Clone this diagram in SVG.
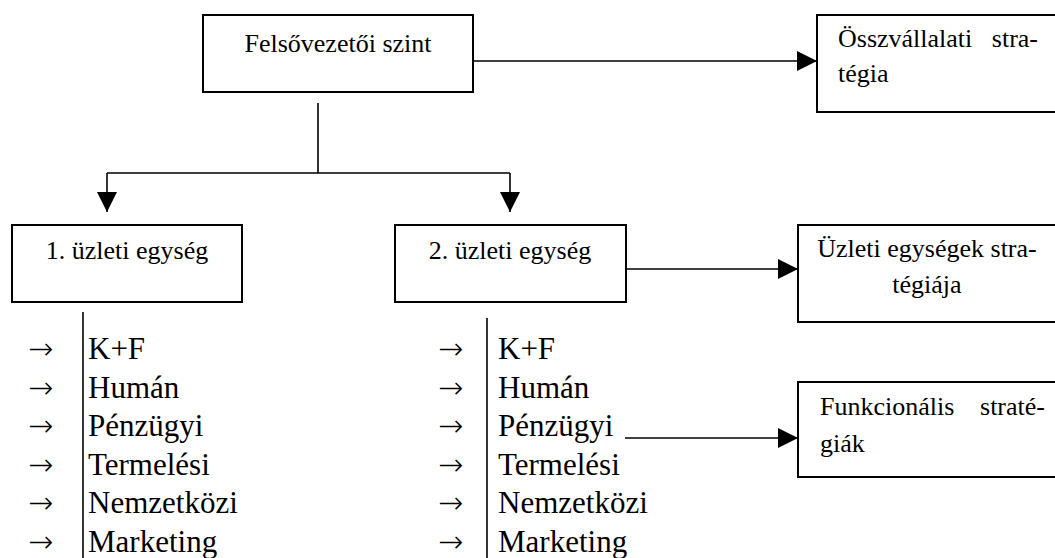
<svg xmlns="http://www.w3.org/2000/svg" width="1055" height="558" viewBox="0 0 1055 558">
<style>
.box{fill:#fff;stroke:#000;stroke-width:2}
.t{font-family:"Liberation Serif","Times New Roman",serif;font-size:26px;fill:#000}
.l{font-family:"Liberation Serif","Times New Roman",serif;font-size:31px;fill:#000}
.a{font-family:"DejaVu Sans",sans-serif;font-weight:200;font-size:30px;fill:#000}
.c{fill:none;stroke:#000;stroke-width:1.6}
.v{fill:none;stroke:#000;stroke-width:1.6}
</style>
<defs>
<marker id="ah" markerWidth="20" markerHeight="20" refX="20" refY="10" orient="auto" markerUnits="userSpaceOnUse">
<path d="M0,0 L20,10 L0,20 z" fill="#000"/>
</marker>
</defs>
<rect width="1055" height="558" fill="#fff"/>
<g id="connectors">
<path class="c" d="M473,61 H817" marker-end="url(#ah)"/>
<path class="c" d="M318,103 V173 M107,173 H510"/>
<path class="c" d="M107,173 V212" marker-end="url(#ah)"/>
<path class="c" d="M510,173 V212" marker-end="url(#ah)"/>
<path class="c" d="M626,269 H798" marker-end="url(#ah)"/>
<path class="c" d="M625,438 H798" marker-end="url(#ah)"/>
</g>
<g id="felso">
<rect class="box" x="203" y="15" width="270" height="77"/>
<text class="t" x="338" y="52" text-anchor="middle">Felsővezetői szint</text>
</g>
<g id="osszvallalati">
<rect class="box" x="817" y="15" width="260" height="97"/>
<text class="t" x="838" y="47">Összvállalati</text>
<text class="t" x="1038" y="47" text-anchor="end">stra-</text>
<text class="t" x="838" y="82">tégia</text>
</g>
<g id="egyseg1">
<rect class="box" x="12" y="225" width="230" height="77"/>
<text class="t" x="127" y="259" text-anchor="middle">1. üzleti egység</text>
</g>
<g id="egyseg2">
<rect class="box" x="395" y="225" width="231" height="77"/>
<text class="t" x="510" y="259" text-anchor="middle">2. üzleti egység</text>
</g>
<g id="uzleti">
<rect class="box" x="798" y="225" width="270" height="97"/>
<text class="t" x="927" y="257" text-anchor="middle">Üzleti egységek stra-</text>
<text class="t" x="927" y="293" text-anchor="middle">tégiája</text>
</g>
<g id="funkcionalis">
<rect class="box" x="798" y="382" width="270" height="95"/>
<text class="t" x="820" y="415">Funkcionális</text>
<text class="t" x="1045" y="415" text-anchor="end">straté-</text>
<text class="t" x="820" y="452">giák</text>
</g>
<g id="lista1">
<path class="v" d="M83,312 V558"/>
<text class="a" x="28" y="359">→</text>
<text class="a" x="28" y="398">→</text>
<text class="a" x="28" y="436">→</text>
<text class="a" x="28" y="475">→</text>
<text class="a" x="28" y="513">→</text>
<text class="a" x="28" y="552">→</text>
<text class="l" x="88" y="359">K+F</text>
<text class="l" x="88" y="398">Humán</text>
<text class="l" x="88" y="436">Pénzügyi</text>
<text class="l" x="88" y="475">Termelési</text>
<text class="l" x="88" y="513">Nemzetközi</text>
<text class="l" x="88" y="552">Marketing</text>
</g>
<g id="lista2">
<path class="v" d="M487,318 V558"/>
<text class="a" x="438" y="359">→</text>
<text class="a" x="438" y="398">→</text>
<text class="a" x="438" y="436">→</text>
<text class="a" x="438" y="475">→</text>
<text class="a" x="438" y="513">→</text>
<text class="a" x="438" y="552">→</text>
<text class="l" x="498" y="359">K+F</text>
<text class="l" x="498" y="398">Humán</text>
<text class="l" x="498" y="436">Pénzügyi</text>
<text class="l" x="498" y="475">Termelési</text>
<text class="l" x="498" y="513">Nemzetközi</text>
<text class="l" x="498" y="552">Marketing</text>
</g>
</svg>
